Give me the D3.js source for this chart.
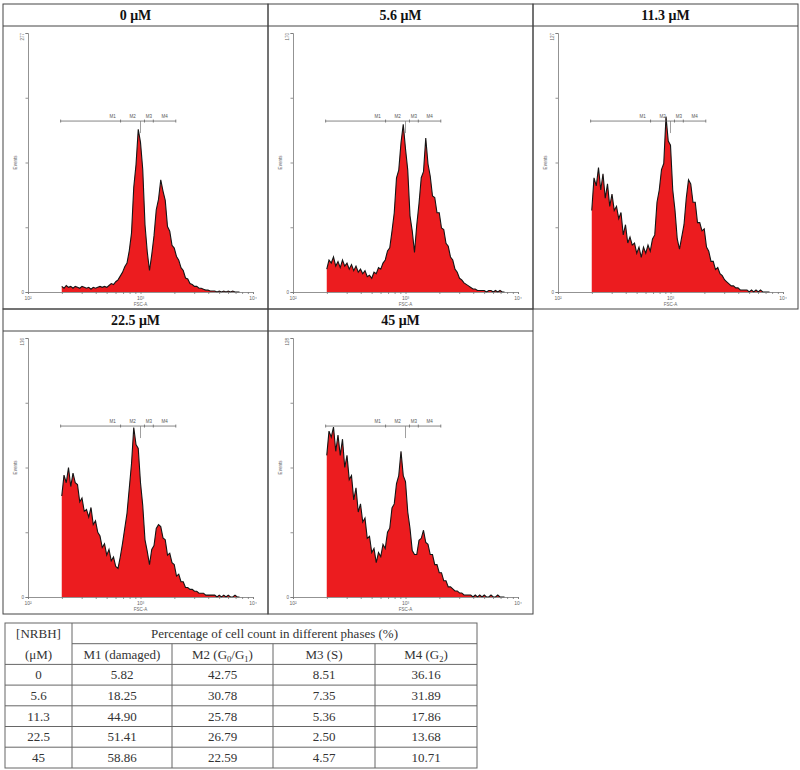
<!DOCTYPE html>
<html><head><meta charset="utf-8">
<script src="https://cdn.jsdelivr.net/npm/d3@7"></script>
<style>
body{margin:0;background:#fff;}
svg{display:block;}
</style></head>
<body>
<svg id="c" width="800" height="770"></svg>
<script>
// ---------- DATA ----------
const panelTitles = ["0 μM", "5.6 μM", "11.3 μM", "22.5 μM", "45 μM"];
const yMax = [277, 170, 127, 136, 128];
// histogram channels: log10(FSC-A) from 2.30 in steps of 0.02 (80 bins)
const binStartLog = 2.30, binStepLog = 0.02;
const counts0 = [6,4,7,5,6,4,6,5,4,6, 5,4,5,3,5,4,5,6,5,6, 5,7,9,8,11,13,17,21,27,31, 44,63,112,136,174,160,131,72,43,23, 40,60,88,99,120,108,98,70,65,50, 47,38,34,26,23,15,14,9,8,6, 6,4,4,3,2,2,1,1,1,0, 1,0,1,0,1,0,1,0,0,0];
const counts56 = [15,21,19,23,17,20,16,21,17,19, 15,18,14,17,13,15,12,14,10,11, 9,13,12,16,15,19,21,27,29,40, 52,75,80,98,110,94,80,50,40,26, 44,58,75,79,101,84,76,63,62,52, 52,42,41,32,30,23,21,15,13,9, 8,6,5,4,3,2,2,1,1,1, 1,0,1,1,0,1,0,1,0,0];
const counts113 = [40,56,52,61,50,58,46,53,42,48, 40,42,36,39,28,33,24,27,23,24, 19,22,17,22,19,23,20,26,28,44, 50,60,63,86,74,72,50,40,26,21, 27,33,46,55,53,44,44,34,34,30, 31,22,20,15,15,11,12,9,8,6, 5,4,3,3,2,2,1,1,1,1, 0,1,0,1,0,1,0,0,0,0];
const counts225 = [53,64,60,68,58,65,60,59,50,52, 45,46,42,47,38,40,34,32,26,28, 22,25,19,21,16,15,21,28,36,44, 57,70,89,80,78,60,48,30,24,17, 25,27,36,38,37,31,30,22,23,18, 17,11,12,8,8,5,5,4,4,3, 3,2,2,2,1,1,1,1,1,0, 1,0,1,0,1,0,0,1,0,0];
const counts45 = [70,82,79,84,72,80,70,78,64,70, 58,60,48,54,42,46,37,39,29,30, 22,24,17,22,20,26,24,32,34,44, 46,56,60,72,60,57,42,34,23,21, 21,28,29,33,27,26,21,21,16,16, 12,12,8,8,5,5,4,3,3,2, 2,1,1,1,1,0,1,0,1,0, 1,0,0,1,0,0,1,0,0,0];
const allCounts = [counts0, counts56, counts113, counts225, counts45];
// marker gates (FSC-A channel boundaries)
const markerNames = ["M1", "M2", "M3", "M4"];
const markerBounds = [195, 665, 1085, 1300, 2060];
// x axis
const xMajor = [100, 1000, 10000];
const xMajorLabels = ["10²", "10³", "10⁴"];
// table
const tableConc = ["0", "5.6", "11.3", "22.5", "45"];
const tableM1 = ["5.82", "18.25", "44.90", "51.41", "58.86"];
const tableM2 = ["42.75", "30.78", "25.78", "26.79", "22.59"];
const tableM3 = ["8.51", "7.35", "5.36", "2.50", "4.57"];
const tableM4 = ["36.16", "31.89", "17.86", "13.68", "10.71"];

// ---------- LAYOUT ----------
const svg = d3.select("#c");
const panelW = 265, panelH = 305, titleH = 22;
const panelPos = [[3,4],[268,4],[533,4],[3,309],[268,309]];
const pl = 25, pr = 250, pt = 29, pb = 288;
const serif = "'Liberation Serif','Times New Roman',serif";
const sans = "'Liberation Sans',Arial,sans-serif";

const x = d3.scaleLog().domain([100, 10000]).range([pl, pr]);
const minorTicks = [];
[100, 1000].forEach(d => { for (let k = 2; k <= 9; k++) minorTicks.push(d * k); });

panelTitles.forEach((title, i) => {
  const [px, py] = panelPos[i];
  const g = svg.append("g").attr("transform", `translate(${px},${py})`);
  g.append("rect").attr("x", 0).attr("y", 0).attr("width", panelW).attr("height", panelH)
    .attr("fill", "none").attr("stroke", "#444").attr("stroke-width", 1);
  g.append("line").attr("x1", 0).attr("x2", panelW).attr("y1", titleH).attr("y2", titleH)
    .attr("stroke", "#444");
  g.append("text").attr("x", panelW / 2).attr("y", titleH / 2 + 5).attr("text-anchor", "middle")
    .attr("font-family", serif).attr("font-weight", "bold").attr("font-size", 14).attr("fill", "#111")
    .text(title);

  const y = d3.scaleLinear().domain([0, yMax[i]]).range([pb, pt]);
  const data = allCounts[i].map((c, k) => ({ ch: Math.pow(10, binStartLog + k * binStepLog), c }));

  // histogram
  g.append("path").datum(data)
    .attr("d", d3.area().x(d => x(d.ch)).y0(y(0)).y1(d => y(d.c)))
    .attr("fill", "#ec1c1f");
  g.append("path").datum(data)
    .attr("d", d3.line().x(d => x(d.ch)).y(d => y(d.c)))
    .attr("fill", "none").attr("stroke", "#151515").attr("stroke-width", 1.1)
    .attr("stroke-linejoin", "miter");

  // y axis
  const ya = g.append("g").attr("transform", `translate(${pl},0)`)
    .call(d3.axisLeft(y).tickValues([0, yMax[i] / 4, yMax[i] / 2, 3 * yMax[i] / 4, yMax[i]])
      .tickFormat("").tickSizeOuter(0).tickSize(2.5));
  ya.selectAll("path,line").attr("stroke", "#777").attr("stroke-width", 0.8);
  g.append("text").attr("transform", `translate(${pl - 4},${y(yMax[i])}) rotate(-90)`)
    .attr("text-anchor", "end").attr("font-family", sans).attr("font-size", 4.5).attr("fill", "#666")
    .text(yMax[i]);
  g.append("text").attr("x", pl - 4).attr("y", y(0) + 1.5).attr("text-anchor", "end")
    .attr("font-family", sans).attr("font-size", 4.5).attr("fill", "#666").text("0");
  g.append("text").attr("transform", `translate(${pl - 11},${(pt + pb) / 2}) rotate(-90)`)
    .attr("text-anchor", "middle").attr("font-family", sans).attr("font-size", 4.5).attr("fill", "#666")
    .text("Events");

  // x axis
  const xa = g.append("g").attr("transform", `translate(0,${pb})`)
    .call(d3.axisBottom(x).tickValues(minorTicks.concat(xMajor)).tickFormat("").tickSizeOuter(0).tickSize(2));
  xa.selectAll("path,line").attr("stroke", "#777").attr("stroke-width", 0.8);
  xMajor.forEach((v, k) => {
    g.append("text").attr("x", x(v)).attr("y", pb + 8).attr("text-anchor", "middle")
      .attr("font-family", sans).attr("font-size", 5).attr("fill", "#666").text(xMajorLabels[k]);
  });
  g.append("text").attr("x", x(1000)).attr("y", pb + 14).attr("text-anchor", "middle")
    .attr("font-family", sans).attr("font-size", 4.5).attr("fill", "#666").text("FSC-A");

  // markers
  const my = pt + 0.34 * (pb - pt);
  const mg = g.append("g").attr("stroke", "#666").attr("stroke-width", 0.8);
  mg.append("line").attr("x1", x(markerBounds[0])).attr("x2", x(markerBounds[4]))
    .attr("y1", my).attr("y2", my);
  markerBounds.forEach(b => {
    mg.append("line").attr("x1", x(b)).attr("x2", x(b)).attr("y1", my - 1.5).attr("y2", my + 1.5);
  });
  g.append("line").attr("x1", x(1000)).attr("x2", x(1000)).attr("y1", my).attr("y2", my + 12)
    .attr("stroke", "#777").attr("stroke-width", 0.7);
  markerNames.forEach((n, k) => {
    const cx = k === 0 ? x(markerBounds[1]) - 8 : (x(markerBounds[k]) + x(markerBounds[k + 1])) / 2;
    g.append("text").attr("x", cx).attr("y", my - 3).attr("text-anchor", "middle")
      .attr("font-family", sans).attr("font-size", 4.5).attr("fill", "#555").text(n);
  });
});

// ---------- TABLE ----------
const colX = [5, 72, 172, 273, 375, 477];
const rowY = [623, 643.7, 664.4, 685.1, 705.8, 726.5, 747.2, 768];
const tg = svg.append("g");
const tStroke = "#666";
tg.append("rect").attr("x", colX[0]).attr("y", rowY[0]).attr("width", colX[5] - colX[0])
  .attr("height", rowY[7] - rowY[0]).attr("fill", "none").attr("stroke", tStroke);
tg.append("line").attr("x1", colX[1]).attr("x2", colX[1]).attr("y1", rowY[0]).attr("y2", rowY[7]).attr("stroke", tStroke);
[2, 3, 4].forEach(c => tg.append("line").attr("x1", colX[c]).attr("x2", colX[c]).attr("y1", rowY[1]).attr("y2", rowY[7]).attr("stroke", tStroke));
tg.append("line").attr("x1", colX[1]).attr("x2", colX[5]).attr("y1", rowY[1]).attr("y2", rowY[1]).attr("stroke", tStroke);
for (let r = 2; r < 7; r++) tg.append("line").attr("x1", colX[0]).attr("x2", colX[5]).attr("y1", rowY[r]).attr("y2", rowY[r]).attr("stroke", tStroke);

function cellText(txt, c0, c1, r) {
  return tg.append("text").attr("x", (colX[c0] + colX[c1]) / 2).attr("y", (rowY[r] + rowY[r + 1]) / 2 + 4.5)
    .attr("text-anchor", "middle").attr("font-family", serif).attr("font-size", 13).attr("fill", "#333").text(txt);
}
cellText("[NRBH]", 0, 1, 0);
cellText("(μM)", 0, 1, 1);
cellText("Percentage of cell count in different phases (%)", 1, 5, 0);
cellText("M1 (damaged)", 1, 2, 1);
const h2 = cellText("M2 (G", 2, 3, 1);
h2.append("tspan").attr("font-size", 8.5).attr("dy", 3).text("0");
h2.append("tspan").attr("dy", -3).text("/G");
h2.append("tspan").attr("font-size", 8.5).attr("dy", 3).text("1");
h2.append("tspan").attr("dy", -3).text(")");
cellText("M3 (S)", 3, 4, 1);
const h4 = cellText("M4 (G", 4, 5, 1);
h4.append("tspan").attr("font-size", 8.5).attr("dy", 3).text("2");
h4.append("tspan").attr("dy", -3).text(")");
tableConc.forEach((v, r) => {
  cellText(v, 0, 1, r + 2);
  cellText(tableM1[r], 1, 2, r + 2);
  cellText(tableM2[r], 2, 3, r + 2);
  cellText(tableM3[r], 3, 4, r + 2);
  cellText(tableM4[r], 4, 5, r + 2);
});
</script>
</body></html>
